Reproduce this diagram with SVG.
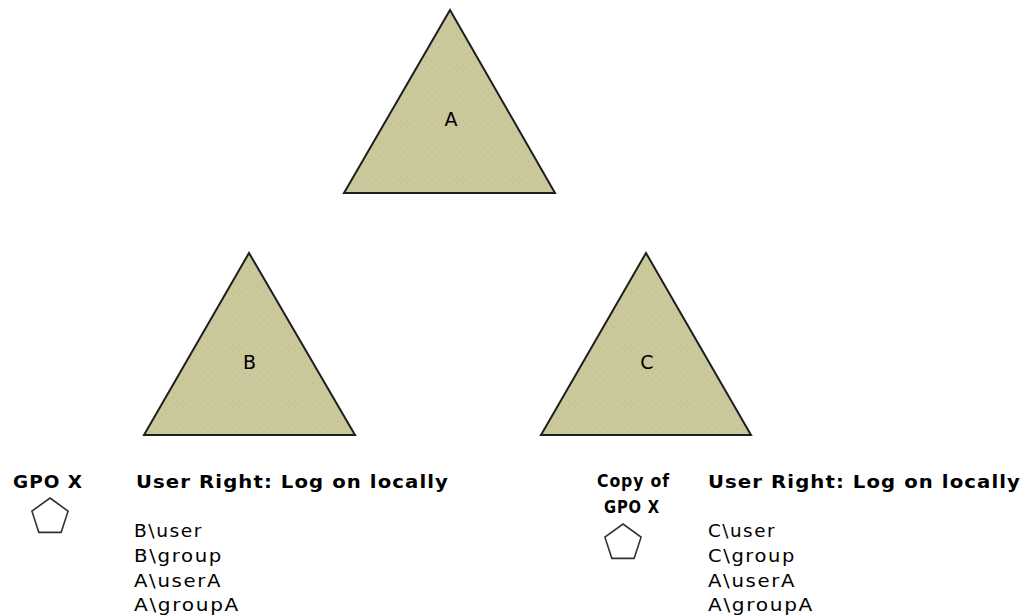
<svg xmlns="http://www.w3.org/2000/svg" width="1026" height="616" viewBox="0 0 1026 616">
  <style>
    .domain { fill: url(#stipple); stroke: #1e1e1e; stroke-width: 2; stroke-linejoin: miter; }
    .gpo { fill: #ffffff; stroke: #333333; stroke-width: 1.6; }
    .label { font-family: "DejaVu Sans", Verdana, sans-serif; font-size: 19px; fill: #000000; }
    .title { font-family: "DejaVu Sans", Verdana, sans-serif; font-size: 18px; font-weight: bold; letter-spacing: 1px; fill: #000000; }
    .item { font-family: "DejaVu Sans", Verdana, sans-serif; font-size: 18px; letter-spacing: 1.5px; fill: #000000; }
  </style>
  <defs>
    <!-- khaki domain fill with a faint dotted grain -->
    <pattern id="stipple" width="7" height="7" patternUnits="userSpaceOnUse">
      <rect width="7" height="7" fill="#cbc99c"/>
      <circle cx="1.5" cy="1.5" r="0.7" fill="#b9b78a" opacity="0.7"/>
      <circle cx="5" cy="5" r="0.7" fill="#b9b78a" opacity="0.7"/>
    </pattern>
    <!-- GPO symbol: regular pentagon, circumradius 19 -->
    <polygon id="pentagon" points="0,-19 18.07,-5.87 11.17,15.37 -11.17,15.37 -18.07,-5.87"/>
  </defs>

  <rect width="1026" height="616" fill="#ffffff"/>

  <!-- forest root domain -->
  <g id="domain-a">
    <polygon class="domain" points="450,10 344,193 555,193"/>
    <text class="label" x="451" y="126" text-anchor="middle">A</text>
  </g>

  <!-- child domains -->
  <g id="domain-b">
    <polygon class="domain" points="249,253 144,435 355,435"/>
    <text class="label" x="249.5" y="369" text-anchor="middle">B</text>
  </g>

  <g id="domain-c">
    <polygon class="domain" points="646,253 541,435 751,435"/>
    <text class="label" x="647" y="369" text-anchor="middle">C</text>
  </g>

  <!-- no links between domains are drawn -->
  <g id="connectors"></g>

  <!-- GPO linked in domain B -->
  <g id="gpo-x">
    <text class="title" x="48" y="488" text-anchor="middle" textLength="70" lengthAdjust="spacingAndGlyphs">GPO X</text>
    <use href="#pentagon" class="gpo" x="50" y="517"/>
  </g>

  <g id="rights-b">
    <text class="title" x="136" y="488" textLength="313" lengthAdjust="spacingAndGlyphs">User Right: Log on locally</text>
    <text class="item" x="134" y="537" textLength="69" lengthAdjust="spacingAndGlyphs">B\user</text>
    <text class="item" x="134" y="562" textLength="89" lengthAdjust="spacingAndGlyphs">B\group</text>
    <text class="item" x="134" y="587" textLength="88" lengthAdjust="spacingAndGlyphs">A\userA</text>
    <text class="item" x="134" y="611" textLength="106" lengthAdjust="spacingAndGlyphs">A\groupA</text>
  </g>

  <!-- copied GPO in domain C -->
  <g id="gpo-x-copy">
    <text class="title" x="633.5" y="487" text-anchor="middle" textLength="73" lengthAdjust="spacingAndGlyphs">Copy of</text>
    <text class="title" x="632" y="513" text-anchor="middle" textLength="56" lengthAdjust="spacingAndGlyphs">GPO X</text>
    <use href="#pentagon" class="gpo" x="623" y="543"/>
  </g>

  <g id="rights-c">
    <text class="title" x="708" y="488" textLength="313" lengthAdjust="spacingAndGlyphs">User Right: Log on locally</text>
    <text class="item" x="708" y="537" textLength="68" lengthAdjust="spacingAndGlyphs">C\user</text>
    <text class="item" x="708" y="562" textLength="88" lengthAdjust="spacingAndGlyphs">C\group</text>
    <text class="item" x="708" y="587" textLength="88" lengthAdjust="spacingAndGlyphs">A\userA</text>
    <text class="item" x="708" y="611" textLength="106" lengthAdjust="spacingAndGlyphs">A\groupA</text>
  </g>
</svg>
